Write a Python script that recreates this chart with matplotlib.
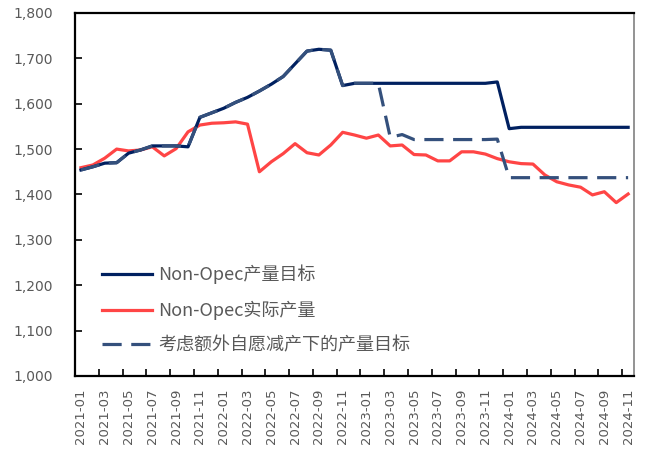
import matplotlib
matplotlib.use('Agg')
import matplotlib.pyplot as plt
import numpy as np

# 月份 2021-01 .. 2024-11
meses = []
for ano in range(2021, 2025):
    for m in range(1, 13):
        if ano == 2024 and m > 11:
            break
        meses.append(f"{ano}-{m:02d}")

# Non-Opec产量目标
meta = [1454, 1461, 1469, 1470, 1491, 1498, 1507, 1507, 1507, 1505, 1570, 1580,
        1590, 1603, 1614, 1628, 1643, 1660, 1688, 1716, 1720, 1718, 1640, 1645,
        1645, 1645, 1645, 1645, 1645, 1645, 1645, 1645, 1645, 1645, 1645, 1648,
        1545, 1548, 1548, 1548, 1548, 1548, 1548, 1548, 1548, 1548, 1548]

# Non-Opec实际产量
real = [1459, 1465, 1480, 1500, 1496, 1498, 1505, 1485, 1501, 1538, 1553, 1557,
        1558, 1560, 1555, 1450, 1472, 1490, 1512, 1492, 1487, 1509, 1537, 1531,
        1524, 1531, 1507, 1509, 1488, 1487, 1474, 1474, 1494, 1494, 1489, 1479,
        1472, 1468, 1467, 1443, 1428, 1421, 1416, 1399, 1406, 1382, 1401]

# 考虑额外自愿减产下的产量目标
meta_extra = [1454, 1461, 1469, 1470, 1491, 1498, 1507, 1507, 1507, 1505, 1570, 1580,
              1590, 1603, 1614, 1628, 1643, 1660, 1688, 1716, 1720, 1718, 1640, 1645,
              1645, 1645, 1526, 1532, 1521, 1521, 1521, 1521, 1521, 1521, 1521, 1522,
              1437, 1437, 1437, 1437, 1437, 1437, 1437, 1437, 1437, 1437, 1437]

COR_META = '#002060'
COR_REAL = '#FF4545'
COR_EXTRA = '#34507C'
CINZA = '#595959'

fig = plt.figure(figsize=(6.49, 4.59), dpi=100)
ax = fig.add_axes([0.1156, 0.181, 0.8614, 0.7907])

x = np.arange(len(meses))
ax.plot(x, meta, color=COR_META, linewidth=2.3, solid_joinstyle='round',
        label='Non-Opec产量目标', zorder=3)
ax.plot(x, real, color=COR_REAL, linewidth=2.3, solid_joinstyle='round',
        label='Non-Opec实际产量', zorder=2)
ax.plot(x, meta_extra, color=COR_EXTRA, linewidth=2.3, dashes=(6, 3),
        label='考虑额外自愿减产下的产量目标', zorder=4)

ax.set_xlim(-0.5, len(meses) - 0.5)
ax.set_ylim(1000, 1800)

# eixo y
ax.set_yticks(np.arange(1000, 1801, 100))
ax.set_yticklabels([f"{v:,}" for v in range(1000, 1801, 100)])

# eixo x: rótulos a cada 2 meses, marcas entre categorias
ax.set_xticks(x[::2])
ax.set_xticklabels(meses[::2], rotation=90)
ax.set_xticks(np.arange(1.5, len(meses) - 1, 2), minor=True)

ax.tick_params(axis='x', which='major', length=0, pad=9, labelsize=9.5, labelcolor=CINZA)
ax.tick_params(axis='x', which='minor', direction='in', length=5, width=1.2, color='black')
ax.tick_params(axis='y', direction='in', length=5, width=1.2, pad=16,
               labelsize=10, labelcolor=CINZA)

for lado in ['top', 'left', 'bottom']:
    ax.spines[lado].set_color('black')
    ax.spines[lado].set_linewidth(1.6)
ax.spines['right'].set_color('#808080')
ax.spines['right'].set_linewidth(1.2)

leg = ax.legend(loc='upper left', bbox_to_anchor=(0.048, 0.307), frameon=False,
                borderpad=0, borderaxespad=0, handlelength=2.8, handletextpad=0.3,
                labelspacing=0.92,
                prop={'family': ['Noto Sans CJK SC', 'DejaVu Sans'], 'size': 13})
for t in leg.get_texts():
    t.set_color(CINZA)

fig.savefig('out.png', dpi=100)
